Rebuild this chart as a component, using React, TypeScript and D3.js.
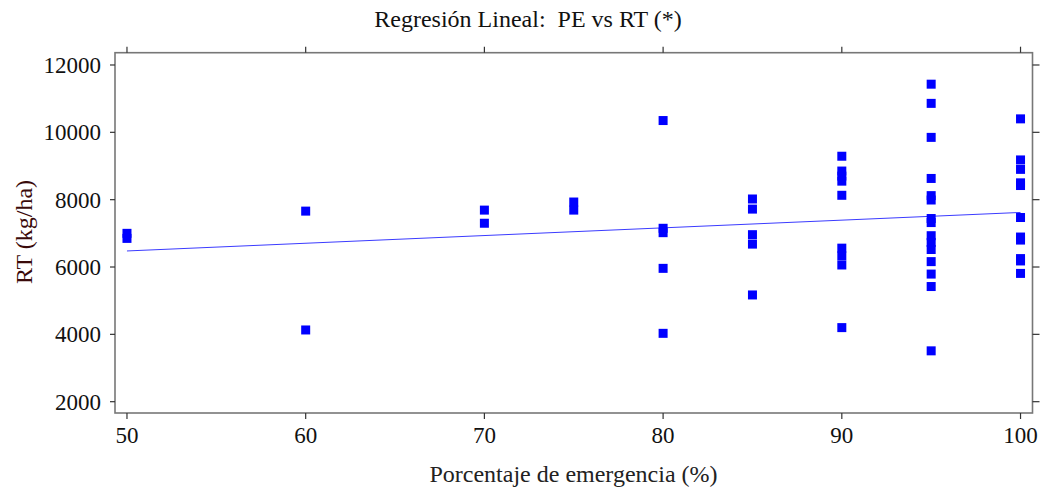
import React from "react";
import * as d3 from "d3";

// Emergence percentage groups and the yields (kg/ha) observed in each.
const pe50 = [7000, 6850];
const pe60 = [7660, 4130];
const pe70 = [7690, 7300];
const pe75 = [7930, 7690];
const pe80 = [10350, 7150, 7020, 5960, 4030];
const pe85 = [8020, 7720, 6960, 6680, 5170];
const pe90 = [9290, 8850, 8700, 8550, 8130, 6560, 6330, 6060, 4200];
const pe95 = [11430, 10860, 9850, 8630, 8120, 7990, 7440, 7320, 6930, 6730, 6520, 6160, 5790, 5420, 3510];
const pe100 = [10400, 9180, 8900, 8500, 8420, 7470, 6890, 6800, 6250, 6180, 5810];

const groups: [number, number[]][] = [
  [50, pe50],
  [60, pe60],
  [70, pe70],
  [75, pe75],
  [80, pe80],
  [85, pe85],
  [90, pe90],
  [95, pe95],
  [100, pe100],
];

const xTicks = [50, 60, 70, 80, 90, 100];
const yTicks = [2000, 4000, 6000, 8000, 10000, 12000];

const W = 1047;
const H = 492;
const left = 115;
const right = 1032.5;
const top = 52.7;
const bottom = 413;

const FONT = "'Liberation Serif', 'Times New Roman', serif";

export default function App() {
  const points = groups.flatMap(([pe, ys]) => ys.map((rt) => ({ pe, rt })));

  const x = d3.scaleLinear().domain([49.33, 100.67]).range([left, right]);
  const y = d3.scaleLinear().domain([1664, 12365]).range([bottom, top]);

  // Ordinary least squares fit of RT on PE
  const mx = d3.mean(points, (p) => p.pe)!;
  const my = d3.mean(points, (p) => p.rt)!;
  const sxy = d3.sum(points, (p) => (p.pe - mx) * (p.rt - my));
  const sxx = d3.sum(points, (p) => (p.pe - mx) ** 2);
  const slope = sxy / sxx;
  const intercept = my - slope * mx;
  const fit = (v: number) => intercept + slope * v;

  const line = d3
    .line<number>()
    .x((v) => x(v))
    .y((v) => y(fit(v)));

  const sq = 9;
  const tickColor = "#333";
  const frameColor = "#777";

  return (
    <svg
      width={W}
      height={H}
      style={{ position: "absolute", left: 0, top: 0, background: "#fff" }}
      fontFamily={FONT}
    >
      <text
        x={528}
        y={27}
        textAnchor="middle"
        fontSize={24}
        fill="#111"
        style={{ whiteSpace: "pre" }}
      >
        {"Regresión Lineal:  PE vs RT (*)"}
      </text>

      {/* frame */}
      <rect
        x={left}
        y={top}
        width={right - left}
        height={bottom - top}
        fill="none"
        stroke={frameColor}
        strokeWidth={1.6}
      />

      {/* y ticks on both sides */}
      {yTicks.map((t) => (
        <g key={`y${t}`}>
          <line x1={left - 5} x2={left} y1={y(t)} y2={y(t)} stroke={tickColor} strokeWidth={1.2} />
          <line x1={right} x2={right + 7} y1={y(t)} y2={y(t)} stroke={tickColor} strokeWidth={1.2} />
          <text x={101} y={y(t) + 8} textAnchor="end" fontSize={23} fill="#111">
            {t}
          </text>
        </g>
      ))}

      {/* x ticks on bottom and top */}
      {xTicks.map((t) => (
        <g key={`x${t}`}>
          <line x1={x(t)} x2={x(t)} y1={bottom} y2={bottom + 6} stroke={tickColor} strokeWidth={1.2} />
          <line x1={x(t)} x2={x(t)} y1={top - 6} y2={top} stroke={tickColor} strokeWidth={1.2} />
          <text x={x(t)} y={443} textAnchor="middle" fontSize={23} fill="#111">
            {t}
          </text>
        </g>
      ))}

      <path d={line([50, 100])!} fill="none" stroke="#3b3bff" strokeWidth={1} />

      {points.map((p, i) => (
        <rect
          key={i}
          x={x(p.pe) - sq / 2}
          y={y(p.rt) - sq / 2}
          width={sq}
          height={sq}
          fill="#0000ff"
        />
      ))}

      <text x={573.5} y={482} textAnchor="middle" fontSize={24} fill="#222">
        Porcentaje de emergencia (%)
      </text>
      <text
        transform={`translate(32,232) rotate(-90)`}
        textAnchor="middle"
        fontSize={24}
        fill="#3a0a0a"
      >
        RT (kg/ha)
      </text>
    </svg>
  );
}
